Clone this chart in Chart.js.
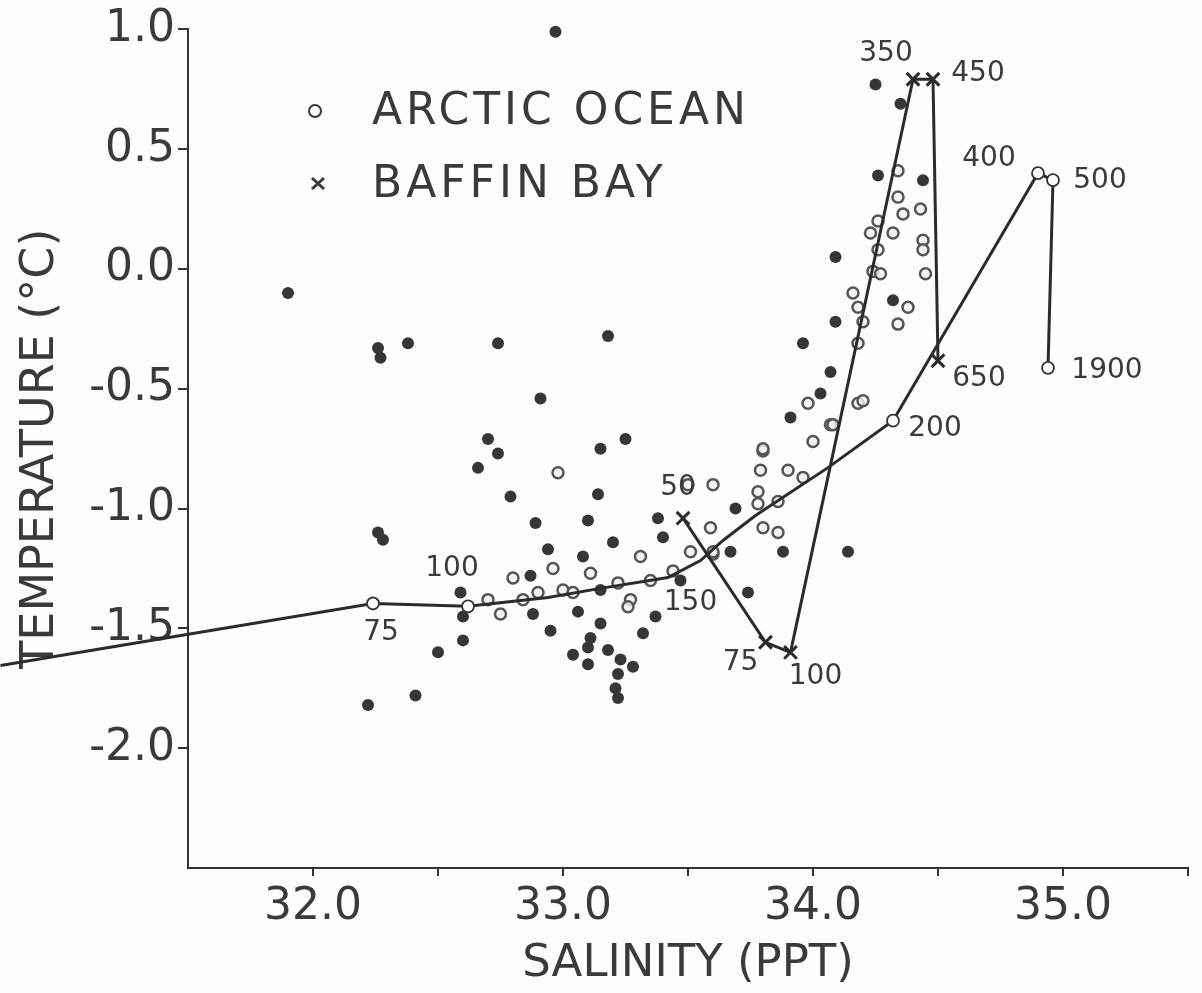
<!DOCTYPE html>
<html>
<head>
<meta charset="utf-8">
<script src="https://cdn.jsdelivr.net/npm/chart.js@4/dist/chart.umd.min.js"></script>
<style>
body{margin:0;background:#fdfdfd;}
#wrap{width:1202px;height:993px;}
</style>
</head>
<body>
<div id="wrap"><canvas id="tsChart" width="1202" height="993"></canvas></div>
<script>
// station bottles, filled dots (salinity ppt, temperature C)
const dotSal=[31.90,32.26,32.27,32.38,32.26,32.28,32.22,32.41,32.50,32.60,32.60,32.59,32.97,33.18,32.91,32.74,32.70,32.74,32.66,33.15,33.25,32.79,33.14,32.89,33.10,32.94,33.08,33.20,33.38,33.69,33.67,33.88,33.91,33.74,33.37,33.32,32.95,32.87,32.88,33.06,33.15,33.11,33.04,33.10,33.10,33.18,33.23,33.22,33.28,33.21,33.22,33.47,33.15,34.25,34.35,34.26,34.44,34.09,34.32,34.09,33.96,34.07,34.03,34.14,33.40];
const dotTemp=[-0.10,-0.33,-0.37,-0.31,-1.10,-1.13,-1.82,-1.78,-1.60,-1.55,-1.45,-1.35,0.99,-0.28,-0.54,-0.31,-0.71,-0.77,-0.83,-0.75,-0.71,-0.95,-0.94,-1.06,-1.05,-1.17,-1.20,-1.14,-1.04,-1.00,-1.18,-1.18,-0.62,-1.35,-1.45,-1.52,-1.51,-1.28,-1.44,-1.43,-1.48,-1.54,-1.61,-1.58,-1.65,-1.59,-1.63,-1.69,-1.66,-1.75,-1.79,-1.30,-1.34,0.77,0.69,0.39,0.37,0.05,-0.13,-0.22,-0.31,-0.43,-0.52,-1.18,-1.12];

// arctic ocean bottles, open dots
const openSal=[32.90,32.96,33.00,33.11,33.04,33.22,33.27,33.31,33.35,33.44,33.51,33.60,33.26,32.84,32.75,32.80,32.70,34.34,34.34,34.43,34.36,34.26,34.23,34.32,34.26,34.44,34.44,34.24,34.27,34.45,34.16,34.18,34.20,34.18,34.38,34.34,33.98,34.07,34.00,33.80,33.79,33.90,33.96,33.78,33.78,33.86,33.80,33.86,33.50,33.59,33.60,33.60,34.18,34.20,34.08,33.80,32.98];
const openTemp=[-1.35,-1.25,-1.34,-1.27,-1.35,-1.31,-1.38,-1.20,-1.30,-1.26,-1.18,-1.19,-1.41,-1.38,-1.44,-1.29,-1.38,0.41,0.30,0.25,0.23,0.20,0.15,0.15,0.08,0.12,0.08,-0.01,-0.02,-0.02,-0.10,-0.16,-0.22,-0.31,-0.16,-0.23,-0.56,-0.65,-0.72,-0.76,-0.84,-0.84,-0.87,-0.93,-0.98,-0.97,-1.08,-1.10,-0.90,-1.08,-1.18,-0.90,-0.56,-0.55,-0.65,-0.75,-0.85];

// mean profiles with depth (m)
const arcticSal=[30.75,32.24,32.62,32.94,33.15,33.42,33.55,33.64,33.77,34.06,34.32,34.90,34.96,34.94];
const arcticTemp=[-1.655,-1.396,-1.408,-1.371,-1.333,-1.288,-1.217,-1.133,-1.029,-0.829,-0.633,0.40,0.371,-0.4125];
const arcticDepth=['','75','100','','','','150','','','','200','400','500','1900'];

const baffinSal=[33.48,33.81,33.91,34.40,34.48,34.50];
const baffinTemp=[-1.04,-1.558,-1.60,0.792,0.792,-0.383];
const baffinDepth=['50','75','100','350','450','650'];

const xTicks=[31.5,32.0,32.5,33.0,33.5,34.0,34.5,35.0,35.5];

// label offsets in px from the marker
const arcticOff=[null,[8,29],[-16,-38],null,null,null,[-10,42],null,null,null,[42,8],[-49,-14],[47,1],[59,3]];
const baffinOff=[[-5,-30],[-25,20],[25,24],[-27,-26],[45,-6],[41,18]];

const ink='#3a3a3a';
const fam='"DejaVu Sans", sans-serif';

function pts(xs,ys){return xs.map((x,i)=>({x:x,y:ys[i]}));}

const annotate={
  id:'annotate',
  beforeDraw(chart){
    const c=chart.ctx;
    c.save();c.fillStyle='#fdfdfd';c.fillRect(0,0,chart.width,chart.height);c.restore();
  },
  afterDatasetsDraw(chart){
    const c=chart.ctx;
    c.save();
    c.fillStyle=ink;
    c.font='28px '+fam;
    c.textAlign='center';
    c.textBaseline='middle';
    const am=chart.getDatasetMeta(2).data;
    arcticDepth.forEach((t,i)=>{
      if(!t) return;
      c.fillText(t,am[i].x+arcticOff[i][0],am[i].y+arcticOff[i][1]);
    });
    const bm=chart.getDatasetMeta(3).data;
    baffinDepth.forEach((t,i)=>{
      c.fillText(t,bm[i].x+baffinOff[i][0],bm[i].y+baffinOff[i][1]);
    });
    // legend
    c.strokeStyle=ink;
    c.lineWidth=2;
    c.beginPath();c.arc(315,111,6,0,Math.PI*2);c.stroke();
    c.lineWidth=3;
    c.beginPath();
    c.moveTo(312,178);c.lineTo(324,189);
    c.moveTo(324,178);c.lineTo(312,189);
    c.stroke();
    c.font='44px '+fam;
    c.textAlign='left';
    c.letterSpacing='4px';
    c.fillText('ARCTIC OCEAN',372,113);
    c.fillText('BAFFIN BAY',372,186);
    c.restore();
  }
};

const ctx=document.getElementById('tsChart').getContext('2d');
new Chart(ctx,{
  type:'scatter',
  data:{
    datasets:[
      {
        label:'Stations',
        data:pts(dotSal,dotTemp),
        pointRadius:6,
        pointBackgroundColor:'#363636',
        pointBorderWidth:0,
        clip:false,
        order:2
      },
      {
        label:'Arctic bottles',
        data:pts(openSal,openTemp),
        pointRadius:5.5,
        pointBackgroundColor:'rgba(240,240,240,0.8)',
        pointBorderColor:'#555',
        pointBorderWidth:2.5,
        order:3
      },
      {
        label:'ARCTIC OCEAN',
        data:pts(arcticSal,arcticTemp),
        showLine:true,
        borderColor:'#2b2b2b',
        borderWidth:3,
        pointRadius:arcticDepth.map((t,i)=>t && i!==6 ? 6 : 0),
        pointBackgroundColor:'#fdfdfd',
        pointBorderColor:'#333',
        pointBorderWidth:1.8,
        clip:false,
        order:0
      },
      {
        label:'BAFFIN BAY',
        data:pts(baffinSal,baffinTemp),
        showLine:true,
        borderColor:'#2b2b2b',
        borderWidth:3,
        pointStyle:'crossRot',
        pointRadius:9,
        pointBorderColor:'#2b2b2b',
        pointBorderWidth:3,
        order:1
      }
    ]
  },
  options:{
    responsive:false,
    animation:false,
    layout:{padding:{left:10,top:28,right:14,bottom:0}},
    plugins:{legend:{display:false},tooltip:{enabled:false}},
    scales:{
      x:{
        type:'linear',
        min:31.5,
        max:35.5,
        afterBuildTicks:(s)=>{s.ticks=xTicks.map(v=>({value:v}));},
        afterFit:(s)=>{s.height=125;},
        border:{display:true,color:'#333',width:2},
        grid:{drawOnChartArea:false,drawTicks:true,tickLength:8,color:'#333',lineWidth:2},
        ticks:{
          color:ink,
          font:{family:fam,size:44},
          padding:5,
          maxRotation:0,
          callback:(v)=>{
            if(v===31.5) return null;
            return Number.isInteger(v) ? v.toFixed(1) : '';
          }
        },
        title:{display:true,text:'SALINITY (PPT)',color:ink,font:{family:fam,size:45},padding:{top:0,bottom:2}}
      },
      y:{
        type:'linear',
        min:-2.5,
        max:1.0,
        afterFit:(s)=>{s.width=178;},
        border:{display:true,color:'#333',width:2},
        grid:{drawOnChartArea:false,drawTicks:true,tickLength:10,color:'#333',lineWidth:2},
        ticks:{
          stepSize:0.5,
          color:ink,
          font:{family:fam,size:44},
          padding:3,
          callback:(v)=> v<=-2.5 ? null : v.toFixed(1)
        },
        title:{display:true,text:'TEMPERATURE (°C)',color:ink,font:{family:fam,size:46},padding:{top:3,bottom:0}}
      }
    }
  },
  plugins:[annotate]
});
</script>
</body>
</html>
